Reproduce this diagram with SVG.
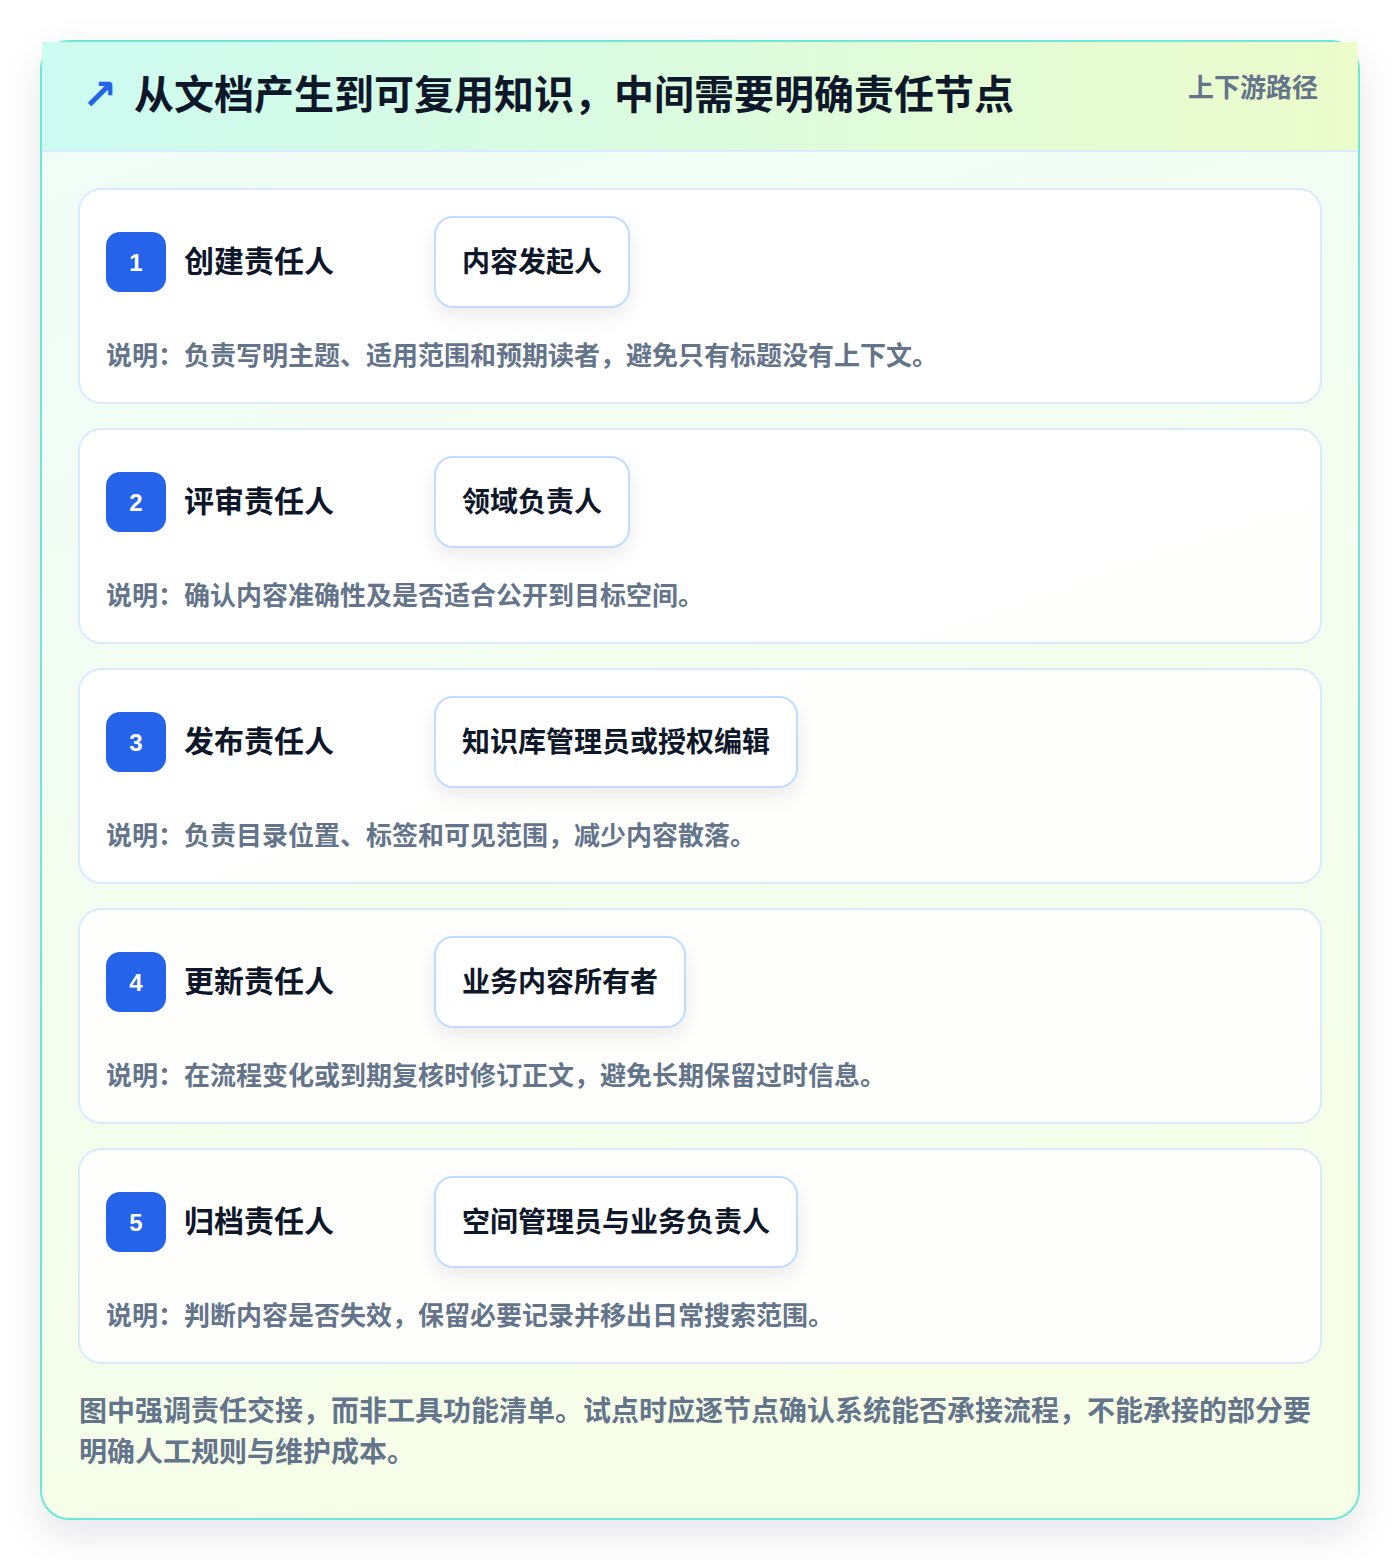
<svg xmlns="http://www.w3.org/2000/svg" width="1400" height="1560" viewBox="0 0 1400 1560">
<defs>
<linearGradient id="hdr" x1="0" y1="0" x2="1" y2="0"><stop offset="0" stop-color="#ccfbf1"/><stop offset="1" stop-color="#ecfccb"/></linearGradient>
<linearGradient id="body" x1="0" y1="0" x2="0.3" y2="1"><stop offset="0" stop-color="#effdf9"/><stop offset="1" stop-color="#f6fee8"/></linearGradient>
<filter id="outerShadow" x="-10%" y="-10%" width="120%" height="120%"><feDropShadow dx="0" dy="14" stdDeviation="18" flood-color="#0f172a" flood-opacity="0.10"/></filter>
<filter id="pillShadow" x="-20%" y="-30%" width="140%" height="180%"><feDropShadow dx="0" dy="8" stdDeviation="9" flood-color="#0f172a" flood-opacity="0.08"/></filter>
</defs>
<style>
text{font-family:"Noto Sans CJK SC","Noto Sans",sans-serif;font-weight:700}
.card{fill:#ffffff;fill-opacity:0.88;stroke:#dbeafe;stroke-width:2}
.badge{fill:#2563eb}
.num{font-family:"Liberation Sans",Arial,sans-serif;font-size:24px;fill:#ffffff;text-anchor:middle}
.role{font-size:30px;fill:#0f172a}
.pill{fill:#ffffff;stroke:#bfdbfe;stroke-width:2}
.pilltxt{font-size:28px;fill:#0f172a}
.desc{font-size:26px;fill:#64748b}
.foot{font-size:28px;fill:#64748b}
</style>
<rect x="0" y="0" width="1400" height="1560" fill="#ffffff"/>
<g id="frame">
<rect x="41" y="41" width="1318" height="1478" rx="28" fill="url(#body)" stroke="#6ee7d4" stroke-width="2" filter="url(#outerShadow)"/>
<rect x="42" y="42" width="1316" height="109" fill="url(#hdr)"/>
<line x1="42" y1="151" x2="1358" y2="151" stroke="#dbeafe" stroke-width="2"/>
<text x="82" y="109" font-size="42" fill="#2563eb" style="font-family:'DejaVu Sans',sans-serif">↗</text>
<text x="134" y="109" font-size="40" fill="#0f172a">从文档产生到可复用知识，中间需要明确责任节点</text>
<text x="1318" y="97" font-size="26" fill="#64748b" text-anchor="end">上下游路径</text>
</g>
<g id="connectors"></g>
<g id="node1">
<rect class="card" x="79" y="189" width="1242" height="214" rx="22"/>
<rect class="badge" x="106" y="232" width="60" height="60" rx="14"/>
<text class="num" x="136" y="271">1</text>
<text class="role" x="184" y="272">创建责任人</text>
<rect class="pill" x="435" y="217" width="194" height="90" rx="18" filter="url(#pillShadow)"/>
<text class="pilltxt" x="462" y="272">内容发起人</text>
<text class="desc" x="106" y="365">说明：负责写明主题、适用范围和预期读者，避免只有标题没有上下文。</text>
</g>
<g id="node2">
<rect class="card" x="79" y="429" width="1242" height="214" rx="22"/>
<rect class="badge" x="106" y="472" width="60" height="60" rx="14"/>
<text class="num" x="136" y="511">2</text>
<text class="role" x="184" y="512">评审责任人</text>
<rect class="pill" x="435" y="457" width="194" height="90" rx="18" filter="url(#pillShadow)"/>
<text class="pilltxt" x="462" y="512">领域负责人</text>
<text class="desc" x="106" y="605">说明：确认内容准确性及是否适合公开到目标空间。</text>
</g>
<g id="node3">
<rect class="card" x="79" y="669" width="1242" height="214" rx="22"/>
<rect class="badge" x="106" y="712" width="60" height="60" rx="14"/>
<text class="num" x="136" y="751">3</text>
<text class="role" x="184" y="752">发布责任人</text>
<rect class="pill" x="435" y="697" width="362" height="90" rx="18" filter="url(#pillShadow)"/>
<text class="pilltxt" x="462" y="752">知识库管理员或授权编辑</text>
<text class="desc" x="106" y="845">说明：负责目录位置、标签和可见范围，减少内容散落。</text>
</g>
<g id="node4">
<rect class="card" x="79" y="909" width="1242" height="214" rx="22"/>
<rect class="badge" x="106" y="952" width="60" height="60" rx="14"/>
<text class="num" x="136" y="991">4</text>
<text class="role" x="184" y="992">更新责任人</text>
<rect class="pill" x="435" y="937" width="250" height="90" rx="18" filter="url(#pillShadow)"/>
<text class="pilltxt" x="462" y="992">业务内容所有者</text>
<text class="desc" x="106" y="1085">说明：在流程变化或到期复核时修订正文，避免长期保留过时信息。</text>
</g>
<g id="node5">
<rect class="card" x="79" y="1149" width="1242" height="214" rx="22"/>
<rect class="badge" x="106" y="1192" width="60" height="60" rx="14"/>
<text class="num" x="136" y="1231">5</text>
<text class="role" x="184" y="1232">归档责任人</text>
<rect class="pill" x="435" y="1177" width="362" height="90" rx="18" filter="url(#pillShadow)"/>
<text class="pilltxt" x="462" y="1232">空间管理员与业务负责人</text>
<text class="desc" x="106" y="1325">说明：判断内容是否失效，保留必要记录并移出日常搜索范围。</text>
</g>
<g id="footer">
<text class="foot" x="79" y="1421">图中强调责任交接，而非工具功能清单。试点时应逐节点确认系统能否承接流程，不能承接的部分要</text>
<text class="foot" x="79" y="1462">明确人工规则与维护成本。</text>
</g>
</svg>
